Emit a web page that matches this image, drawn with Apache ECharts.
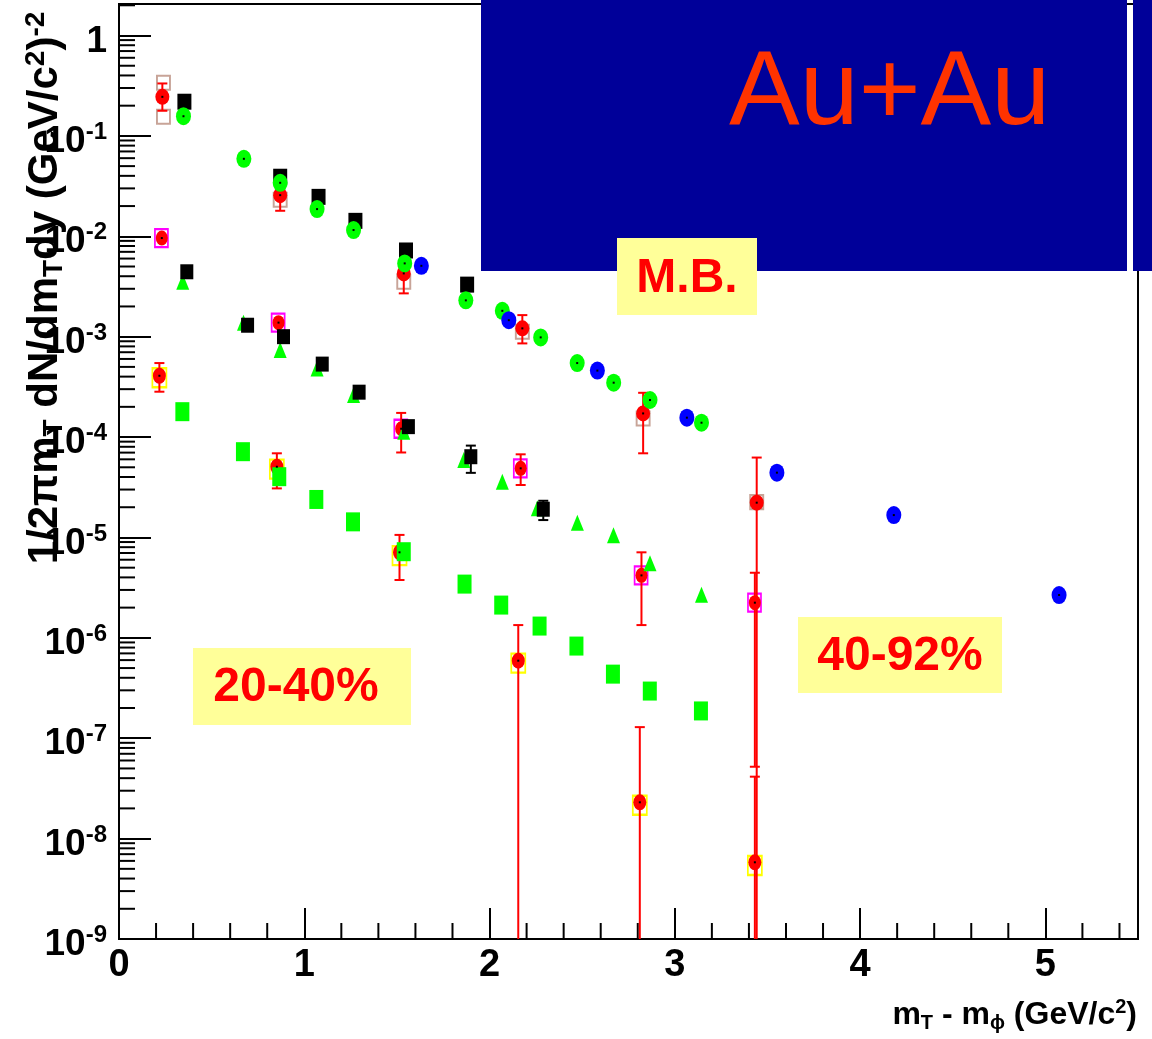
<!DOCTYPE html>
<html><head><meta charset="utf-8">
<script src="https://cdn.jsdelivr.net/npm/echarts@6/dist/echarts.min.js"></script>
<style>html,body{margin:0;padding:0;background:#fff}#c{width:1152px;height:1039px}</style>
</head><body><div id="c"></div><script>
// ---------------- data ----------------
const xMajorTicks = [0, 1, 2, 3, 4, 5];
const yExponents = [-9, -8, -7, -6, -5, -4, -3, -2, -1, 0];

// M.B.
const mbRed = [[0.234,0.245],[0.870,0.0257],[1.537,0.00427],[2.177,0.00121],[2.829,1.72e-4],[3.442,2.22e-5]];
const mbRedErr = [[0.234,0.333,0.178],[0.870,0.0302,0.01795],[1.537,0.00516,0.0027],[2.177,0.00164,0.000857],[2.829,2.76e-4,6.89e-5],[3.442,6.25e-5,0]];
const mbBrownSq = [[0.240,0.338],[0.240,0.155],[0.870,0.0231],[1.537,0.00352],[2.177,0.00112],[2.829,1.53e-4],[3.442,2.25e-5]];
const mbBlack = [[0.353,0.219],[0.870,0.0392],[1.077,0.0247],[1.276,0.01425],[1.549,0.00722],[1.879,0.0033]];
const mbGreen = [[0.348,0.157],[0.674,0.0591],[0.870,0.0341],[1.069,0.01866],[1.266,0.01154],[1.542,0.00537],[1.872,0.0023],[2.069,0.00181],[2.276,9.84e-4],[2.473,5.46e-4],[2.670,3.48e-4],[2.866,2.34e-4],[3.144,1.39e-4]];
const mbBlue = [[1.632,0.00508],[2.104,0.00146],[2.582,4.59e-4],[3.065,1.56e-4],[3.551,4.42e-5],[4.182,1.67e-5],[5.074,2.67e-6]];

// 20-40%
const c2040Red = [[0.231,0.0096],[0.861,0.00138],[1.523,1.21e-4],[2.168,4.88e-5],[2.820,4.19e-6],[3.432,2.24e-6]];
const c2040RedErr = [[1.523,1.74e-4,7.02e-5],[2.168,6.73e-5,3.33e-5],[2.820,7.11e-6,1.34e-6],[3.432,4.45e-6,5.2e-8]];
const c2040MagSq = [[0.229,0.0096],[0.859,0.00138],[1.521,1.21e-4],[2.166,4.88e-5],[2.818,4.19e-6],[3.430,2.24e-6]];
const c2040Black = [[0.366,0.00443],[0.694,0.0013],[0.888,0.001],[1.097,5.33e-4],[1.296,2.8e-4],[1.562,1.27e-4],[1.899,6.37e-5],[2.290,1.91e-5]];
const c2040BlackErr = [[1.899,8.22e-5,4.4e-5],[2.290,2.32e-5,1.49e-5]];
const c2040Green = [[0.344,0.00352],[0.672,0.00138],[0.870,7.36e-4],[1.069,4.83e-4],[1.266,2.62e-4],[1.537,1.13e-4],[1.861,5.9e-5],[2.069,3.59e-5],[2.258,1.95e-5],[2.474,1.40e-5],[2.669,1.05e-5],[2.866,5.52e-6],[3.144,2.68e-6]];

// 40-92%
const c4092Red = [[0.218,4.08e-4],[0.852,5.06e-5],[1.514,7.11e-6],[2.155,5.92e-7],[2.811,2.30e-8],[3.432,5.81e-9]];
const c4092RedErr = [[0.218,5.46e-4,2.83e-4],[0.852,6.89e-5,3.08e-5],[1.514,1.06e-5,3.77e-6],[2.155,1.34e-6,0],[2.811,1.29e-7,0],[3.432,4.14e-8,0]];
const c4092YelSq = [[0.218,3.9e-4],[0.852,4.8e-5],[1.514,6.6e-6],[2.155,5.6e-7],[2.811,2.15e-8],[3.432,5.4e-9]];
const c4092Green = [[0.342,1.79e-4],[0.669,7.15e-5],[0.865,4.03e-5],[1.065,2.39e-5],[1.263,1.43e-5],[1.537,7.21e-6],[1.865,3.43e-6],[2.063,2.12e-6],[2.270,1.31e-6],[2.469,8.28e-7],[2.666,4.35e-7],[2.865,2.95e-7],[3.141,1.87e-7]];

// ---------------- chart ----------------
const SANS = "'Liberation Sans',Arial,Helvetica,sans-serif";

// minor tick positions derived from the axis structure
const yMinor = [];
yExponents.forEach(e => { for (let k = 2; k <= 9; k++) { const v = k * Math.pow(10, e); if (v < 2.06) yMinor.push([0, v]); } });
const xMinor = [];
for (let i = 1; i <= 27; i++) { const v = +(i * 0.2).toFixed(1); if (Math.abs(v - Math.round(v)) > 1e-6) xMinor.push([v, 1e-9]); }

function errRender(color, capW, lw) {
  return function (params, api) {
    const cs = params.coordSys;
    const x = api.value(0), hi = api.value(1), lo = api.value(2);
    const pHi = api.coord([x, hi]);
    const bottom = cs.y + cs.height;
    let yLo = bottom, loCap = false;
    if (lo > 0) { yLo = api.coord([x, lo])[1]; loCap = yLo < bottom; if (!loCap) yLo = bottom; }
    const px = pHi[0];
    const st = { stroke: color, lineWidth: lw };
    const ch = [
      { type: 'line', shape: { x1: px, y1: pHi[1], x2: px, y2: yLo }, style: st },
      { type: 'line', shape: { x1: px - capW / 2, y1: pHi[1], x2: px + capW / 2, y2: pHi[1] }, style: st }
    ];
    if (loCap) ch.push({ type: 'line', shape: { x1: px - capW / 2, y1: yLo, x2: px + capW / 2, y2: yLo }, style: st });
    return { type: 'group', children: ch };
  };
}

function scat(data, symbol, size, color, z) {
  return { type: 'scatter', data, symbol, symbolSize: size, itemStyle: { color, opacity: 1 }, z: z || 3, silent: true, animation: false };
}
function dots(data, z) {
  return { type: 'scatter', data, symbol: 'rect', symbolSize: 2, itemStyle: { color: '#000', opacity: 1 }, z: z || 7, silent: true, animation: false };
}
function openSq(data, size, color, z) {
  return { type: 'scatter', data, symbol: 'rect', symbolSize: size,
    itemStyle: { color: 'rgba(0,0,0,0)', borderColor: color, borderWidth: 2, opacity: 1 }, z: z || 2, silent: true, animation: false };
}
function errSeries(data, color, capW, lw, z) {
  return { type: 'custom', data, encode: { x: 0, y: 1 }, renderItem: errRender(color, capW, lw), z: z || 2, silent: true, animation: false };
}

const chart = echarts.init(document.getElementById('c'), null, { renderer: 'canvas' });
chart.setOption({
  backgroundColor: '#ffffff',
  animation: false,
  grid: { left: 119, top: 4, width: 1019, height: 935, show: true, borderColor: '#000', borderWidth: 2, backgroundColor: 'transparent' },
  xAxis: {
    type: 'value', min: 0, max: 5.5, interval: 1,
    axisLine: { show: true, onZero: false, lineStyle: { color: '#000', width: 2 } },
    axisTick: { show: true, inside: true, length: 31, lineStyle: { color: '#000', width: 2 } },
    minorTick: { show: false },
    splitLine: { show: false },
    axisLabel: {
      margin: 8, color: '#000', fontFamily: SANS, fontWeight: 'bold', fontSize: 38,
      showMaxLabel: false,
      formatter: v => (xMajorTicks.indexOf(v) >= 0 ? String(v) : '')
    }
  },
  yAxis: {
    type: 'log', logBase: 10, min: 1e-9, max: 2.06,
    axisLine: { show: true, onZero: false, lineStyle: { color: '#000', width: 2 } },
    axisTick: { show: true, inside: true, length: 32, lineStyle: { color: '#000', width: 2 } },
    splitLine: { show: false },
    axisLabel: {
      margin: 12, color: '#000', showMaxLabel: false, padding: [9, 0, 0, 0],
      formatter: function (v) {
        const e = Math.log10(v), r = Math.round(e);
        if (Math.abs(e - r) > 1e-6 || yExponents.indexOf(r) < 0) return '';
        if (r === 0) return '{b|1}';
        return '{b|10}{s|' + r + '}';
      },
      rich: {
        b: { fontFamily: SANS, fontWeight: 'bold', fontSize: 37, color: '#000', lineHeight: 40, verticalAlign: 'bottom', padding: [9, 0, 0, 0] },
        s: { fontFamily: SANS, fontWeight: 'bold', fontSize: 24, color: '#000', lineHeight: 24, verticalAlign: 'top' }
      }
    }
  },
  graphic: [
    { type: 'rect', z: 100, shape: { x: 481, y: 0, width: 646, height: 271 }, style: { fill: '#000099' } },
    { type: 'rect', z: 100, shape: { x: 1133, y: 0, width: 19, height: 271 }, style: { fill: '#000099' } },
    { type: 'text', z: 101, style: { x: 729, y: 95, text: 'Au+Au', font: 'normal 106px ' + SANS, fill: '#FF3300', textAlign: 'left', textVerticalAlign: 'middle' } },
    { type: 'rect', z: 102, shape: { x: 617, y: 238, width: 140, height: 77 }, style: { fill: '#FFFF99' } },
    { type: 'text', z: 103, style: { x: 687, y: 279, text: 'M.B.', font: 'bold 48px ' + SANS, fill: '#FF0000', textAlign: 'center', textVerticalAlign: 'middle' } },
    { type: 'rect', z: 102, shape: { x: 193, y: 648, width: 218, height: 77 }, style: { fill: '#FFFF99' } },
    { type: 'text', z: 103, style: { x: 296, y: 688, text: '20-40%', font: 'bold 48px ' + SANS, fill: '#FF0000', textAlign: 'center', textVerticalAlign: 'middle' } },
    { type: 'rect', z: 102, shape: { x: 798, y: 617, width: 204, height: 76 }, style: { fill: '#FFFF99' } },
    { type: 'text', z: 103, style: { x: 900, y: 657, text: '40-92%', font: 'bold 48px ' + SANS, fill: '#FF0000', textAlign: 'center', textVerticalAlign: 'middle' } },
    // y axis title
    { type: 'text', z: 103, x: 45, y: 288, rotation: Math.PI / 2,
      style: { x: 0, y: 0, textAlign: 'center', textVerticalAlign: 'middle', fill: '#000',
        text: '{n|1/2\u03C0m}{sub|T}{n| dN/dm}{sub|T}{n|dy (GeV/c}{sup|2}{n|)}{sup|-2}',
        rich: {
          n: { fontFamily: SANS, fontWeight: 'bold', fontSize: 42, lineHeight: 46, fill: '#000', verticalAlign: 'middle' },
          sub: { fontFamily: SANS, fontWeight: 'bold', fontSize: 28, lineHeight: 28, fill: '#000', verticalAlign: 'bottom', padding: [12, 0, 0, 0] },
          sup: { fontFamily: SANS, fontWeight: 'bold', fontSize: 28, lineHeight: 28, fill: '#000', verticalAlign: 'top', padding: [0, 0, 8, 0] }
        } } },
    // x axis title
    { type: 'text', z: 103, x: 1137, y: 1015,
      style: { x: 0, y: 0, textAlign: 'right', textVerticalAlign: 'middle', fill: '#000',
        text: '{n|m}{sub|T}{n| - m}{sub|\u03D5}{n| (GeV/c}{sup|2}{n|)}',
        rich: {
          n: { fontFamily: SANS, fontWeight: 'bold', fontSize: 32, lineHeight: 36, fill: '#000', verticalAlign: 'middle' },
          sub: { fontFamily: SANS, fontWeight: 'bold', fontSize: 20, lineHeight: 20, fill: '#000', verticalAlign: 'bottom', padding: [12, 0, 0, 0] },
          sup: { fontFamily: SANS, fontWeight: 'bold', fontSize: 20, lineHeight: 20, fill: '#000', verticalAlign: 'top', padding: [0, 0, 6, 0] }
        } } }
  ],
  series: [
    // minor ticks
    { type: 'custom', data: yMinor, silent: true, z: 1, animation: false,
      renderItem: (params, api) => { const cs = params.coordSys; const p = api.coord([api.value(0), api.value(1)]);
        return { type: 'line', shape: { x1: cs.x, y1: p[1], x2: cs.x + 16, y2: p[1] }, style: { stroke: '#000', lineWidth: 2 } }; } },
    { type: 'custom', data: xMinor, silent: true, z: 1, animation: false,
      renderItem: (params, api) => { const cs = params.coordSys; const p = api.coord([api.value(0), api.value(1)]); const b = cs.y + cs.height;
        return { type: 'line', shape: { x1: p[0], y1: b, x2: p[0], y2: b - 16 }, style: { stroke: '#000', lineWidth: 2 } }; } },

    // 40-92%
    openSq(c4092YelSq, [14, 19], '#FFFF00', 2),
    errSeries(c4092RedErr, '#FF0000', 10, 2, 3),
    scat(c4092Red, 'circle', [13, 16], '#FF0000', 4),
    scat(c4092Green, 'rect', [14, 19], '#00FF00', 5),

    // 20-40%
    openSq(c2040MagSq, [13, 18], '#FF00FF', 2),
    errSeries(c2040RedErr, '#FF0000', 10, 2, 3),
    scat(c2040Red, 'circle', [12, 15], '#FF0000', 4),
    scat(c2040Green, 'triangle', [13, 16], '#00FF00', 5),
    errSeries(c2040BlackErr, '#000000', 10, 2, 5),
    scat(c2040Black, 'rect', [13, 15], '#000000', 6),

    // M.B.
    openSq(mbBrownSq, [13, 14], '#C8A498', 2),
    errSeries(mbRedErr, '#FF0000', 10, 2, 3),
    scat(mbRed, 'circle', [14, 16], '#FF0000', 4),
    scat(mbBlack, 'rect', [14, 16], '#000000', 5),
    scat(mbGreen, 'circle', [15, 18], '#00FF00', 6),
    scat(mbBlue, 'circle', [15, 18], '#0000FF', 6),

    // small black centre points
    dots(mbRed, 7), dots(mbGreen, 7), dots(mbBlue, 7), dots(c2040Red, 7), dots(c4092Red, 7)
  ]
});
</script></body></html>
